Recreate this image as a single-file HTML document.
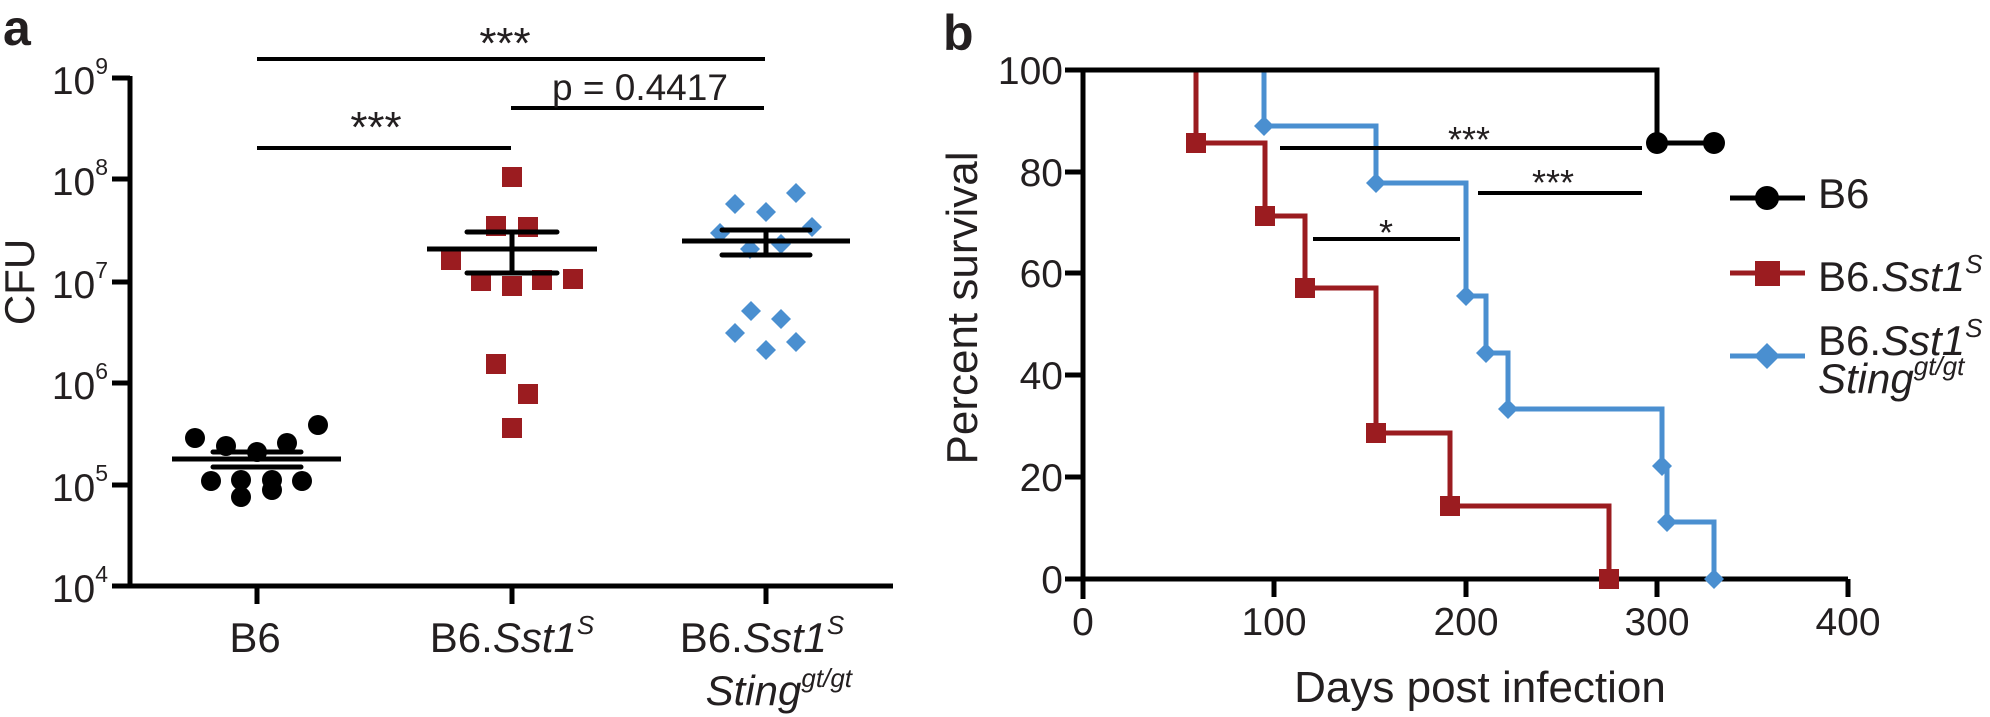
<!DOCTYPE html>
<html><head><meta charset="utf-8"><style>
body{margin:0;background:#fff}
svg{display:block}
text{font-family:"Liberation Sans",Arial,sans-serif;fill:#231f20}
</style></head><body>
<svg width="1990" height="717" viewBox="0 0 1990 717" xmlns="http://www.w3.org/2000/svg">
<!-- Panel a -->
<text x="3" y="45" font-size="50" font-weight="bold">a</text>
<g stroke="#000" stroke-width="5" fill="none">
<line x1="130" y1="76" x2="130" y2="588"/>
<line x1="128" y1="586" x2="893" y2="586"/>
<line x1="112" y1="78" x2="130" y2="78"/>
<line x1="112" y1="179" x2="130" y2="179"/>
<line x1="112" y1="282" x2="130" y2="282"/>
<line x1="112" y1="383" x2="130" y2="383"/>
<line x1="112" y1="485" x2="130" y2="485"/>
<line x1="112" y1="586" x2="130" y2="586"/>
<line x1="257" y1="586" x2="257" y2="604"/>
<line x1="512" y1="586" x2="512" y2="604"/>
<line x1="766" y1="586" x2="766" y2="604"/>
</g>
<g font-size="39" text-anchor="end">
<text x="108" y="94">10<tspan font-size="23" dy="-20">9</tspan></text>
<text x="108" y="195">10<tspan font-size="23" dy="-20">8</tspan></text>
<text x="108" y="298">10<tspan font-size="23" dy="-20">7</tspan></text>
<text x="108" y="399">10<tspan font-size="23" dy="-20">6</tspan></text>
<text x="108" y="501">10<tspan font-size="23" dy="-20">5</tspan></text>
<text x="108" y="602">10<tspan font-size="23" dy="-20">4</tspan></text>
</g>
<text transform="translate(34,282) rotate(-90)" font-size="42" text-anchor="middle">CFU</text>
<g font-size="42" text-anchor="middle">
<text x="255" y="652">B6</text>
<text x="512" y="652">B6.<tspan font-style="italic">Sst1</tspan><tspan font-size="26" dy="-18" font-style="italic">S</tspan></text>
<text x="762" y="652">B6.<tspan font-style="italic">Sst1</tspan><tspan font-size="26" dy="-18" font-style="italic">S</tspan></text>
</g>
<text x="852" y="705" font-size="42" text-anchor="end" font-style="italic">Sting<tspan font-size="26" dy="-18">gt/gt</tspan></text>
<!-- significance a -->
<g stroke="#000" stroke-width="4">
<line x1="257" y1="59" x2="765" y2="59"/>
<line x1="257" y1="148" x2="511" y2="148"/>
<line x1="511" y1="108" x2="764" y2="108"/>
</g>
<g font-size="44" text-anchor="middle">
<text x="505" y="58">***</text>
<text x="376" y="142">***</text>
</g>
<text x="552" y="100" font-size="37">p = 0.4417</text>
<!-- B6 dots -->
<g fill="#000">
<circle cx="195" cy="438" r="10"/><circle cx="226" cy="446" r="10"/><circle cx="257" cy="452" r="10"/>
<circle cx="287" cy="443" r="10"/><circle cx="318" cy="425" r="10"/><circle cx="211" cy="481" r="10"/>
<circle cx="241" cy="480" r="10"/><circle cx="272" cy="480" r="10"/><circle cx="302" cy="481" r="10"/>
<circle cx="241" cy="497" r="10"/><circle cx="272" cy="490" r="10"/>
</g>
<!-- red squares -->
<g fill="#9b1c20">
<rect x="502" y="167" width="20" height="20"/><rect x="486" y="216" width="20" height="20"/>
<rect x="518" y="217" width="20" height="20"/><rect x="441" y="250" width="20" height="20"/>
<rect x="471" y="271" width="20" height="20"/><rect x="502" y="276" width="20" height="20"/>
<rect x="532" y="270" width="20" height="20"/><rect x="563" y="269" width="20" height="20"/>
<rect x="486" y="354" width="20" height="20"/><rect x="518" y="384" width="20" height="20"/>
<rect x="502" y="418" width="20" height="20"/>
</g>
<!-- blue diamonds -->
<g fill="#4a8fd0">
<path d="M735 194l10 10-10 10-10-10z"/><path d="M766 202l10 10-10 10-10-10z"/>
<path d="M796 183l10 10-10 10-10-10z"/><path d="M812 217l10 10-10 10-10-10z"/>
<path d="M720 223l10 10-10 10-10-10z"/><path d="M750 239l10 10-10 10-10-10z"/>
<path d="M781 234l10 10-10 10-10-10z"/><path d="M751 301l10 10-10 10-10-10z"/>
<path d="M781 309l10 10-10 10-10-10z"/><path d="M735 323l10 10-10 10-10-10z"/>
<path d="M796 332l10 10-10 10-10-10z"/><path d="M766 340l10 10-10 10-10-10z"/>
</g>
<!-- means / SEM -->
<g stroke="#000" stroke-width="5" stroke-linecap="round">
<line x1="172" y1="459" x2="341" y2="459" stroke-linecap="butt"/>
<line x1="213" y1="452" x2="301" y2="452"/><line x1="213" y1="467" x2="301" y2="467"/>
<line x1="427" y1="249" x2="597" y2="249" stroke-linecap="butt"/>
<line x1="467" y1="232" x2="557" y2="232"/><line x1="467" y1="273" x2="557" y2="273"/>
<line x1="512" y1="232" x2="512" y2="273"/>
<line x1="682" y1="241" x2="850" y2="241" stroke-linecap="butt"/>
<line x1="722" y1="230" x2="810" y2="230"/><line x1="722" y1="255" x2="810" y2="255"/>
<line x1="766" y1="230" x2="766" y2="255"/>
</g>

<!-- Panel b -->
<text x="943" y="50" font-size="50" font-weight="bold">b</text>
<text transform="translate(977,308) rotate(-90)" font-size="44" text-anchor="middle">Percent survival</text>
<g font-size="39" text-anchor="end">
<text x="1063" y="84">100</text><text x="1063" y="186">80</text><text x="1063" y="287">60</text>
<text x="1063" y="389">40</text><text x="1063" y="491">20</text><text x="1063" y="593">0</text>
</g>
<g font-size="39" text-anchor="middle">
<text x="1083" y="635">0</text><text x="1274" y="635">100</text><text x="1466" y="635">200</text>
<text x="1657" y="635">300</text><text x="1848" y="635">400</text>
</g>
<text x="1480" y="702" font-size="44" text-anchor="middle">Days post infection</text>
<!-- survival curves -->
<g fill="none" stroke-width="5" stroke-linejoin="miter">
<polyline stroke="#4a8fd0" points="1264,70 1264,126 1376,126 1376,183 1466,183 1466,296 1486,296 1486,353 1508,353 1508,409 1662,409 1662,466 1667,466 1667,522 1714,522 1714,579"/>
<polyline stroke="#9b1c20" points="1196,70 1196,143 1265,143 1265,216 1305,216 1305,288 1376,288 1376,433 1450,433 1450,506 1609,506 1609,579"/>
</g>
<g stroke="#000" stroke-width="5" fill="none">
<polyline points="1083,70 1657,70 1657,143 1714,143"/>
<line x1="1083" y1="68" x2="1083" y2="599"/>
<line x1="1081" y1="579" x2="1848" y2="579"/>
<line x1="1065" y1="70" x2="1083" y2="70"/><line x1="1065" y1="172" x2="1083" y2="172"/>
<line x1="1065" y1="273" x2="1083" y2="273"/><line x1="1065" y1="375" x2="1083" y2="375"/>
<line x1="1065" y1="477" x2="1083" y2="477"/><line x1="1065" y1="579" x2="1083" y2="579"/>
<line x1="1274" y1="579" x2="1274" y2="597"/><line x1="1466" y1="579" x2="1466" y2="597"/>
<line x1="1657" y1="579" x2="1657" y2="597"/><line x1="1848" y1="579" x2="1848" y2="597"/>
</g>
<!-- markers -->
<g fill="#9b1c20">
<rect x="1186" y="133" width="20" height="20"/><rect x="1255" y="206" width="20" height="20"/>
<rect x="1295" y="278" width="20" height="20"/><rect x="1366" y="423" width="20" height="20"/>
<rect x="1440" y="496" width="20" height="20"/><rect x="1599" y="569" width="20" height="20"/>
</g>
<g fill="#4a8fd0">
<path d="M1264 116l10 10-10 10-10-10z"/><path d="M1376 173l10 10-10 10-10-10z"/>
<path d="M1466 286l10 10-10 10-10-10z"/><path d="M1486 343l10 10-10 10-10-10z"/>
<path d="M1508 399l10 10-10 10-10-10z"/><path d="M1662 456l10 10-10 10-10-10z"/>
<path d="M1667 512l10 10-10 10-10-10z"/><path d="M1714 569l10 10-10 10-10-10z"/>
</g>
<g fill="#000"><circle cx="1657" cy="143" r="11"/><circle cx="1714" cy="143" r="11"/></g>
<!-- significance b -->
<g stroke="#000" stroke-width="4">
<line x1="1280" y1="148" x2="1642" y2="148"/>
<line x1="1478" y1="193" x2="1642" y2="193"/>
<line x1="1313" y1="239" x2="1460" y2="239"/>
</g>
<g font-size="36" text-anchor="middle">
<text x="1469" y="152">***</text>
<text x="1553" y="195">***</text>
<text x="1386" y="245">*</text>
</g>
<!-- legend -->
<line x1="1730" y1="198" x2="1805" y2="198" stroke="#000" stroke-width="5"/>
<circle cx="1767" cy="198" r="12" fill="#000"/>
<line x1="1730" y1="273" x2="1805" y2="273" stroke="#9b1c20" stroke-width="5"/>
<rect x="1755" y="261" width="25" height="25" fill="#9b1c20"/>
<line x1="1730" y1="356" x2="1805" y2="356" stroke="#4a8fd0" stroke-width="5"/>
<path d="M1767 343l13 13-13 13-13-13z" fill="#4a8fd0"/>
<g font-size="42">
<text x="1818" y="208">B6</text>
<text x="1818" y="291">B6.<tspan font-style="italic">Sst1</tspan><tspan font-size="26" dy="-18" font-style="italic">S</tspan></text>
<text x="1818" y="355">B6.<tspan font-style="italic">Sst1</tspan><tspan font-size="26" dy="-18" font-style="italic">S</tspan></text>
<text x="1818" y="393" font-style="italic">Sting<tspan font-size="26" dy="-18">gt/gt</tspan></text>
</g>
</svg>
</body></html>
